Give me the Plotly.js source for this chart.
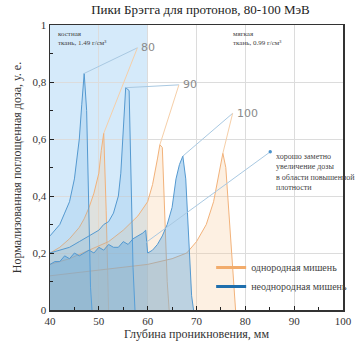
<!DOCTYPE html>
<html><head><meta charset="utf-8">
<script src="https://cdn.plot.ly/plotly-3.0.1.min.js"></script>
<style>html,body{margin:0;padding:0;background:#fff}#c{width:358px;height:347px}</style>
</head><body><div id="c"></div>
<script>
// Heterogeneous target (blue)
const blue80x = [40,41,42,43,44,45,46,46.5,47,47.5,48,48.3,48.6];
const blue80y = [0.26,0.28,0.30,0.34,0.38,0.46,0.6,0.72,0.83,0.7,0.3,0.08,0];
const blue90x = [40,42,44,46,48,50,51,52,53,54,54.5,55,55.5,56.2,56.6,57,57.4];
const blue90y = [0.2,0.21,0.22,0.24,0.26,0.28,0.3,0.31,0.34,0.4,0.48,0.62,0.78,0.77,0.5,0.15,0];
const blue100x = [40,41,42,43,44,45,46,47,48,49,50,51,52,53,54,55,56,57,58,59,59.6,60,61,62,63,64,65,65.8,66.5,67.2,67.8,68.4,69,69.4];
const blue100y = [0.16,0.17,0.17,0.19,0.18,0.2,0.19,0.2,0.21,0.2,0.22,0.21,0.23,0.22,0.22,0.24,0.23,0.25,0.26,0.27,0.28,0.2,0.21,0.23,0.26,0.3,0.36,0.46,0.51,0.54,0.46,0.25,0.05,0];
// Homogeneous target (orange)
const or80x = [40,42,44,46,47,48,49,50,50.5,51,51.5,52];
const or80y = [0.2,0.22,0.25,0.29,0.32,0.36,0.41,0.48,0.56,0.62,0.35,0];
const or90x = [40,44,48,52,55,58,60,61,62,62.5,63,63.5,64,64.4];
const or90y = [0.16,0.18,0.21,0.24,0.28,0.33,0.38,0.44,0.53,0.58,0.57,0.35,0.1,0];
const or100x = [40,45,50,55,60,65,68,70,72,73.5,74.5,75.4,76,76.8,77.5,78];
const or100y = [0.12,0.13,0.14,0.15,0.16,0.18,0.2,0.24,0.3,0.38,0.47,0.55,0.5,0.3,0.1,0];

const energies = ['80','90','100'];
const labelPos = [[57.9,0.92],[66.4,0.79],[77.4,0.69]];
const noteLine = [[59.5,0.235],[85.1,0.555]];

const tickX = [40,50,60,70,80,90,100];
const tickY = [0,0.2,0.4,0.6,0.8,1];
const tickYText = ['0','0,2','0,4','0,6','0,8','1'];

const blueSeries = [[blue80x,blue80y],[blue90x,blue90y],[blue100x,blue100y]];
const orSeries = [[or80x,or80y],[or90x,or90y],[or100x,or100y]];

const BLUE = '#5499d0', ORANGE = '#f2b27a';
const traces = [];
orSeries.forEach(s => traces.push({x:s[0],y:s[1],type:'scatter',mode:'lines',fill:'tozeroy',
  fillcolor:'rgba(250,205,160,0.30)',line:{color:ORANGE,width:1},showlegend:false,hoverinfo:'skip'}));
blueSeries.forEach((s,i) => traces.push({x:s[0],y:s[1],type:'scatter',mode:'lines',fill:'tozeroy',
  fillcolor: i===2 ? 'rgba(90,165,225,0.40)' : 'rgba(110,175,225,0.20)',line:{color:BLUE,width:1},showlegend:false,hoverinfo:'skip'}));
traces.push({x:[null],y:[null],type:'scatter',mode:'lines',name:'однородная мишень',line:{color:'#f2ac6c',width:3}});
traces.push({x:[null],y:[null],type:'scatter',mode:'lines',name:'неоднородная мишень',line:{color:'#1f6fad',width:3}});

function peak(s){let k=0;s[1].forEach((v,i)=>{if(v>s[1][k])k=i;});return [s[0][k],s[1][k]];}

const shapes = [{type:'rect',xref:'x',yref:'paper',x0:40,x1:60,y0:0,y1:1,fillcolor:'#d5eafa',line:{width:0},layer:'below'}];
const annotations = [];
energies.forEach((e,i)=>{
  const pb = peak(blueSeries[i]), po = peak(orSeries[i]), L = labelPos[i];
  shapes.push({type:'line',x0:pb[0],y0:pb[1],x1:L[0],y1:L[1],line:{color:'#a9c9e2',width:1}});
  shapes.push({type:'line',x0:po[0],y0:po[1],x1:L[0],y1:L[1],line:{color:'#f6cfa8',width:1}});
  annotations.push({x:L[0],y:L[1],text:e,showarrow:false,xanchor:'left',xshift:2,font:{family:'DejaVu Sans',size:11,color:'#8a8a8a'}});
});
shapes.push({type:'line',x0:noteLine[0][0],y0:noteLine[0][1],x1:noteLine[1][0],y1:noteLine[1][1],line:{color:'#a9c9e2',width:1}});
shapes.push({type:'circle',x0:noteLine[1][0]-0.35,x1:noteLine[1][0]+0.35,y0:noteLine[1][1]-0.006,y1:noteLine[1][1]+0.006,fillcolor:'#4a92cc',line:{width:0}});
annotations.push({x:85.8,y:0.56,yanchor:'top',xanchor:'left',align:'left',showarrow:false,
  text:'хорошо заметно<br>увеличение дозы<br>в области повышенной<br>плотности',font:{family:'Liberation Serif',size:8,color:'#444'}});
annotations.push({x:41.2,y:0.99,yanchor:'top',xanchor:'left',align:'left',showarrow:false,
  text:'костная<br>ткань, 1.49 г/см³',font:{family:'Liberation Serif',size:7,color:'#444'}});
annotations.push({x:77,y:0.99,yanchor:'top',xanchor:'left',align:'left',showarrow:false,
  text:'мягкая<br>ткань, 0.99 г/см³',font:{family:'Liberation Serif',size:7,color:'#444'}});

const layout = {
  width:358,height:347,margin:{l:50,r:6,t:25,b:37},
  paper_bgcolor:'#fff',plot_bgcolor:'#fff',separators:', ',
  font:{family:'Liberation Serif',size:11,color:'#333'},
  title:{text:'Пики Брэгга для протонов, 80-100 МэВ',x:0.56,xanchor:'center',y:0.985,yanchor:'top',font:{family:'Liberation Serif',size:13,color:'#222'}},
  xaxis:{range:[40,100],tickvals:tickX,ticks:'inside',ticklen:4,tickcolor:'#222',showgrid:true,gridcolor:'#dcdcdc',
    showline:true,linecolor:'#333',linewidth:1.5,mirror:true,zeroline:false,tickfont:{size:11,color:'#333'},
    minor:{dtick:5,ticks:'inside',ticklen:3,tickcolor:'#222',showgrid:false},
    title:{text:'Глубина проникновения, мм',standoff:4,font:{size:12,color:'#333'}}},
  yaxis:{range:[0,1],tickvals:tickY,ticktext:tickYText,ticks:'inside',ticklen:4,tickcolor:'#222',showgrid:true,gridcolor:'#dcdcdc',
    showline:true,linecolor:'#333',linewidth:1.5,mirror:true,zeroline:false,tickfont:{size:11,color:'#333'},
    minor:{dtick:0.1,ticks:'inside',ticklen:3,tickcolor:'#222',showgrid:false},
    title:{text:'Нормализованная поглощенная доза, у. е.',standoff:8,font:{size:12,color:'#333'}}},
  legend:{x:0.55,y:0.2,xanchor:'left',yanchor:'top',bgcolor:'rgba(0,0,0,0)',font:{size:10,color:'#444'},tracegroupgap:2},
  shapes:shapes,annotations:annotations
};
Plotly.newPlot('c',traces,layout,{displayModeBar:false,staticPlot:true});
</script></body></html>
